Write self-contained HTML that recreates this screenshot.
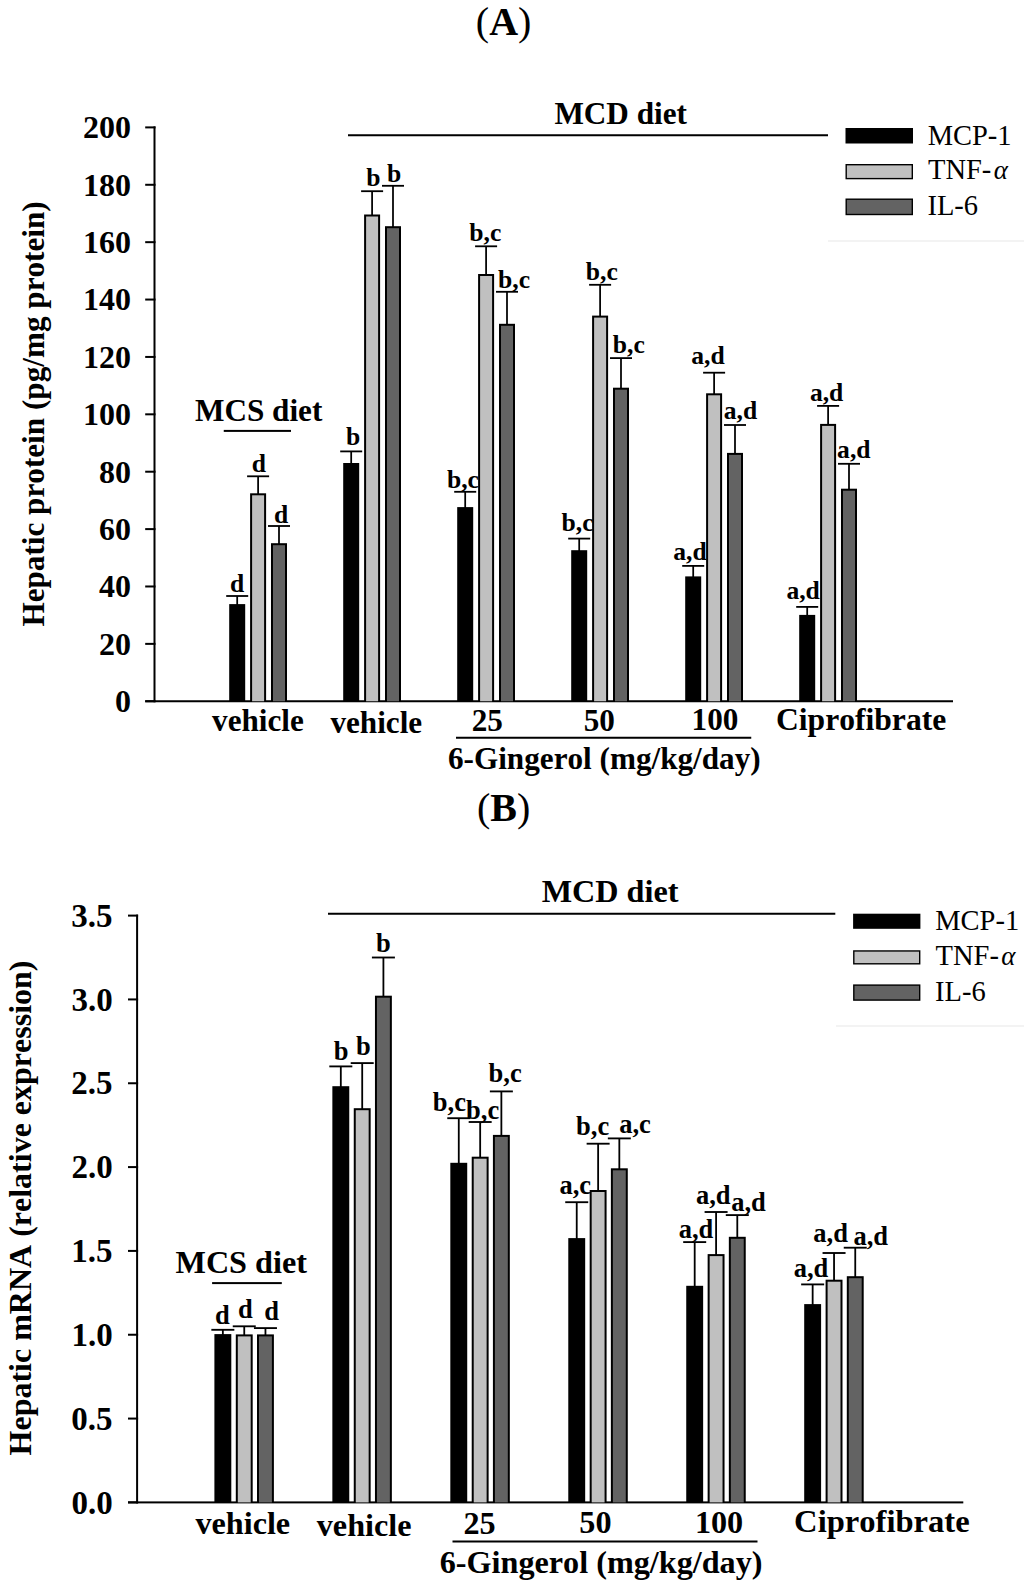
<!DOCTYPE html>
<html><head><meta charset="utf-8"><title>Figure</title>
<style>
html,body{margin:0;padding:0;background:#fff;}
body{width:1024px;height:1591px;overflow:hidden;}
svg{display:block;}
text{font-family:"Liberation Serif",serif;fill:#000;font-kerning:none;}
</style></head><body>
<svg width="1024" height="1591" viewBox="0 0 1024 1591">
<rect x="0" y="0" width="1024" height="1591" fill="#fff"/>
<text x="475.84" y="34.7" font-size="40"><tspan>(</tspan><tspan font-weight="bold">A</tspan><tspan>)</tspan></text>
<rect x="153.5" y="126.4" width="2" height="575.85" fill="#000"/>
<rect x="145.2" y="700.25" width="10.3" height="2" fill="#000"/>
<text x="115.02" y="712.07" font-size="32" font-weight="bold">0</text>
<rect x="145.2" y="642.87" width="10.3" height="2" fill="#000"/>
<text x="99.02" y="654.68" font-size="32" font-weight="bold">20</text>
<rect x="145.2" y="585.48" width="10.3" height="2" fill="#000"/>
<text x="99.02" y="597.3" font-size="32" font-weight="bold">40</text>
<rect x="145.2" y="528.1" width="10.3" height="2" fill="#000"/>
<text x="99.02" y="539.91" font-size="32" font-weight="bold">60</text>
<rect x="145.2" y="470.71" width="10.3" height="2" fill="#000"/>
<text x="99.02" y="482.53" font-size="32" font-weight="bold">80</text>
<rect x="145.2" y="413.32" width="10.3" height="2" fill="#000"/>
<text x="83.02" y="425.14" font-size="32" font-weight="bold">100</text>
<rect x="145.2" y="355.94" width="10.3" height="2" fill="#000"/>
<text x="83.02" y="367.76" font-size="32" font-weight="bold">120</text>
<rect x="145.2" y="298.55" width="10.3" height="2" fill="#000"/>
<text x="83.02" y="310.37" font-size="32" font-weight="bold">140</text>
<rect x="145.2" y="241.17" width="10.3" height="2" fill="#000"/>
<text x="83.02" y="252.99" font-size="32" font-weight="bold">160</text>
<rect x="145.2" y="183.78" width="10.3" height="2" fill="#000"/>
<text x="83.02" y="195.6" font-size="32" font-weight="bold">180</text>
<rect x="145.2" y="126.4" width="10.3" height="2" fill="#000"/>
<text x="83.02" y="138.22" font-size="32" font-weight="bold">200</text>
<rect x="145.2" y="700.25" width="807.8" height="2" fill="#000"/>
<text transform="translate(43.5 626.62) rotate(-90)" x="0" y="0" font-size="31.2" font-weight="bold">Hepatic protein (pg/mg protein)</text>
<rect x="348" y="134.25" width="480" height="2" fill="#000"/>
<text x="554.42" y="123.6" font-size="31.2" font-weight="bold">MCD diet</text>
<text x="195.01" y="420.5" font-size="31.2" font-weight="bold">MCS diet</text>
<rect x="223.75" y="429.9" width="67.25" height="2" fill="#000"/>
<text x="212.09" y="731" font-size="31.2" font-weight="bold">vehicle</text>
<text x="330.39" y="732.75" font-size="31.2" font-weight="bold">vehicle</text>
<text x="471.72" y="731" font-size="31.2" font-weight="bold">25</text>
<text x="583.77" y="730.5" font-size="31.2" font-weight="bold">50</text>
<text x="691.54" y="729.6" font-size="31.2" font-weight="bold">100</text>
<text x="776.01" y="729.6" font-size="31.6" font-weight="bold">Ciprofibrate</text>
<rect x="456" y="736.75" width="295.25" height="2" fill="#000"/>
<text x="447.98" y="769.1" font-size="31.2" font-weight="bold">6-Gingerol (mg/kg/day)</text>
<rect x="845.5" y="128" width="67.5" height="15.5" fill="#000"/>
<text x="927.68" y="145" font-size="28.5">MCP-1</text>
<rect x="845.5" y="164" width="67.5" height="15.3" fill="#000"/>
<rect x="846.9" y="165.4" width="64.7" height="12.5" fill="#c0c0c0"/>
<text x="927.99" y="179.3" font-size="28.5">TNF-</text>
<text x="993.7" y="179.3" font-size="27" font-style="italic">&#945;</text>
<rect x="845.5" y="198.5" width="67.5" height="16.7" fill="#000"/>
<rect x="846.9" y="199.9" width="64.7" height="13.9" fill="#636363"/>
<text x="927.47" y="214.8" font-size="28.5">IL-6</text>
<rect x="828" y="240.4" width="196" height="1.2" fill="#ececec"/>
<text x="229.91" y="591.5" font-size="25.6" font-weight="bold">d</text>
<text x="251.81" y="471.9" font-size="25.6" font-weight="bold">d</text>
<text x="273.91" y="522.6" font-size="25.6" font-weight="bold">d</text>
<text x="346.04" y="445.3" font-size="25.6" font-weight="bold">b</text>
<text x="366.24" y="185.6" font-size="25.6" font-weight="bold">b</text>
<text x="386.94" y="181.7" font-size="25.6" font-weight="bold">b</text>
<text x="446.96" y="487.5" font-size="25.6" font-weight="bold">b,c</text>
<text x="469.36" y="240.8" font-size="25.6" font-weight="bold">b,c</text>
<text x="498.06" y="288.1" font-size="25.6" font-weight="bold">b,c</text>
<text x="561.56" y="531" font-size="25.6" font-weight="bold">b,c</text>
<text x="585.86" y="279.5" font-size="25.6" font-weight="bold">b,c</text>
<text x="612.76" y="353.4" font-size="25.6" font-weight="bold">b,c</text>
<text x="673.31" y="560.1" font-size="25.6" font-weight="bold">a,d</text>
<text x="691.31" y="364.2" font-size="25.6" font-weight="bold">a,d</text>
<text x="723.71" y="419.4" font-size="25.6" font-weight="bold">a,d</text>
<text x="786.41" y="598.7" font-size="25.6" font-weight="bold">a,d</text>
<text x="809.91" y="400.5" font-size="25.6" font-weight="bold">a,d</text>
<text x="837.11" y="458.1" font-size="25.6" font-weight="bold">a,d</text>
<rect x="236.32" y="596" width="1.75" height="9.1" fill="#000"/>
<rect x="226.2" y="595.1" width="22" height="1.8" fill="#000"/>
<rect x="229.2" y="604.1" width="16" height="97.15" fill="#000"/>
<rect x="257.23" y="476.3" width="1.75" height="18" fill="#000"/>
<rect x="247.1" y="475.4" width="22" height="1.8" fill="#000"/>
<rect x="250.1" y="493.3" width="16" height="207.95" fill="#000"/>
<rect x="252.1" y="495.3" width="12" height="205.95" fill="#c0c0c0"/>
<rect x="278.12" y="526" width="1.75" height="18.2" fill="#000"/>
<rect x="268" y="525.1" width="22" height="1.8" fill="#000"/>
<rect x="271" y="543.2" width="16" height="158.05" fill="#000"/>
<rect x="273" y="545.2" width="12" height="156.05" fill="#636363"/>
<rect x="350.32" y="451.4" width="1.75" height="12.6" fill="#000"/>
<rect x="340.2" y="450.5" width="22" height="1.8" fill="#000"/>
<rect x="343.2" y="463" width="16" height="238.25" fill="#000"/>
<rect x="371.22" y="191.2" width="1.75" height="24.3" fill="#000"/>
<rect x="361.1" y="190.3" width="22" height="1.8" fill="#000"/>
<rect x="364.1" y="214.5" width="16" height="486.75" fill="#000"/>
<rect x="366.1" y="216.5" width="12" height="484.75" fill="#c0c0c0"/>
<rect x="392.12" y="185.8" width="1.75" height="41.4" fill="#000"/>
<rect x="382" y="184.9" width="22" height="1.8" fill="#000"/>
<rect x="385" y="226.2" width="16" height="475.05" fill="#000"/>
<rect x="387" y="228.2" width="12" height="473.05" fill="#636363"/>
<rect x="464.32" y="491.8" width="1.75" height="16.3" fill="#000"/>
<rect x="454.2" y="490.9" width="22" height="1.8" fill="#000"/>
<rect x="457.2" y="507.1" width="16" height="194.15" fill="#000"/>
<rect x="485.22" y="246.3" width="1.75" height="28.7" fill="#000"/>
<rect x="475.1" y="245.4" width="22" height="1.8" fill="#000"/>
<rect x="478.1" y="274" width="16" height="427.25" fill="#000"/>
<rect x="480.1" y="276" width="12" height="425.25" fill="#c0c0c0"/>
<rect x="506.12" y="291.8" width="1.75" height="33" fill="#000"/>
<rect x="496" y="290.9" width="22" height="1.8" fill="#000"/>
<rect x="499" y="323.8" width="16" height="377.45" fill="#000"/>
<rect x="501" y="325.8" width="12" height="375.45" fill="#636363"/>
<rect x="578.33" y="538.6" width="1.75" height="12.6" fill="#000"/>
<rect x="568.2" y="537.7" width="22" height="1.8" fill="#000"/>
<rect x="571.2" y="550.2" width="16" height="151.05" fill="#000"/>
<rect x="599.23" y="284.8" width="1.75" height="31.8" fill="#000"/>
<rect x="589.1" y="283.9" width="22" height="1.8" fill="#000"/>
<rect x="592.1" y="315.6" width="16" height="385.65" fill="#000"/>
<rect x="594.1" y="317.6" width="12" height="383.65" fill="#c0c0c0"/>
<rect x="620.12" y="358.1" width="1.75" height="30.6" fill="#000"/>
<rect x="610" y="357.2" width="22" height="1.8" fill="#000"/>
<rect x="613" y="387.7" width="16" height="313.55" fill="#000"/>
<rect x="615" y="389.7" width="12" height="311.55" fill="#636363"/>
<rect x="692.33" y="565.9" width="1.75" height="11.5" fill="#000"/>
<rect x="682.2" y="565" width="22" height="1.8" fill="#000"/>
<rect x="685.2" y="576.4" width="16" height="124.85" fill="#000"/>
<rect x="713.23" y="372.7" width="1.75" height="21.6" fill="#000"/>
<rect x="703.1" y="371.8" width="22" height="1.8" fill="#000"/>
<rect x="706.1" y="393.3" width="16" height="307.95" fill="#000"/>
<rect x="708.1" y="395.3" width="12" height="305.95" fill="#c0c0c0"/>
<rect x="734.12" y="425" width="1.75" height="28.9" fill="#000"/>
<rect x="724" y="424.1" width="22" height="1.8" fill="#000"/>
<rect x="727" y="452.9" width="16" height="248.35" fill="#000"/>
<rect x="729" y="454.9" width="12" height="246.35" fill="#636363"/>
<rect x="806.33" y="606.9" width="1.75" height="9" fill="#000"/>
<rect x="796.2" y="606" width="22" height="1.8" fill="#000"/>
<rect x="799.2" y="614.9" width="16" height="86.35" fill="#000"/>
<rect x="827.23" y="405.9" width="1.75" height="19" fill="#000"/>
<rect x="817.1" y="405" width="22" height="1.8" fill="#000"/>
<rect x="820.1" y="423.9" width="16" height="277.35" fill="#000"/>
<rect x="822.1" y="425.9" width="12" height="275.35" fill="#c0c0c0"/>
<rect x="848.12" y="463.8" width="1.75" height="25.9" fill="#000"/>
<rect x="838" y="462.9" width="22" height="1.8" fill="#000"/>
<rect x="841" y="488.7" width="16" height="212.55" fill="#000"/>
<rect x="843" y="490.7" width="12" height="210.55" fill="#636363"/>
<text x="476.99" y="821.1" font-size="40"><tspan>(</tspan><tspan font-weight="bold">B</tspan><tspan>)</tspan></text>
<rect x="136.1" y="914.6" width="2" height="588.8" fill="#000"/>
<rect x="128" y="1501.4" width="10.1" height="2" fill="#000"/>
<text x="71.41" y="1513.55" font-size="33" font-weight="bold">0.0</text>
<rect x="128" y="1417.57" width="10.1" height="2" fill="#000"/>
<text x="71.36" y="1429.73" font-size="33" font-weight="bold">0.5</text>
<rect x="128" y="1333.74" width="10.1" height="2" fill="#000"/>
<text x="71.41" y="1345.9" font-size="33" font-weight="bold">1.0</text>
<rect x="128" y="1249.91" width="10.1" height="2" fill="#000"/>
<text x="71.36" y="1262.07" font-size="33" font-weight="bold">1.5</text>
<rect x="128" y="1166.09" width="10.1" height="2" fill="#000"/>
<text x="71.41" y="1178.24" font-size="33" font-weight="bold">2.0</text>
<rect x="128" y="1082.26" width="10.1" height="2" fill="#000"/>
<text x="71.36" y="1094.41" font-size="33" font-weight="bold">2.5</text>
<rect x="128" y="998.43" width="10.1" height="2" fill="#000"/>
<text x="71.41" y="1010.58" font-size="33" font-weight="bold">3.0</text>
<rect x="128" y="914.6" width="10.1" height="2" fill="#000"/>
<text x="71.36" y="926.75" font-size="33" font-weight="bold">3.5</text>
<rect x="128" y="1501.4" width="835.3" height="2" fill="#000"/>
<text transform="translate(31.4 1455.46) rotate(-90)" x="0" y="0" font-size="32" font-weight="bold">Hepatic mRNA (relative expression)</text>
<rect x="328" y="912.75" width="507.3" height="2" fill="#000"/>
<text x="541.69" y="902" font-size="32.2" font-weight="bold">MCD diet</text>
<text x="175.51" y="1272.8" font-size="32.2" font-weight="bold">MCS diet</text>
<rect x="212.1" y="1282.1" width="69.7" height="2" fill="#000"/>
<text x="195.43" y="1533.75" font-size="32.2" font-weight="bold">vehicle</text>
<text x="316.78" y="1535.75" font-size="32.2" font-weight="bold">vehicle</text>
<text x="463.41" y="1534.25" font-size="32.2" font-weight="bold">25</text>
<text x="579.37" y="1532.5" font-size="32.2" font-weight="bold">50</text>
<text x="694.92" y="1532.5" font-size="32.2" font-weight="bold">100</text>
<text x="794.11" y="1531.75" font-size="32.6" font-weight="bold">Ciprofibrate</text>
<rect x="452.5" y="1540.5" width="305" height="2" fill="#000"/>
<text x="439.72" y="1572.5" font-size="32.2" font-weight="bold">6-Gingerol (mg/kg/day)</text>
<rect x="853.1" y="913.7" width="67.3" height="15.1" fill="#000"/>
<text x="935.28" y="930.4" font-size="28.5">MCP-1</text>
<rect x="853.1" y="950.25" width="67.3" height="14.25" fill="#000"/>
<rect x="854.5" y="951.65" width="64.5" height="11.45" fill="#c0c0c0"/>
<text x="935.59" y="964.8" font-size="28.5">TNF-</text>
<text x="1001.3" y="964.8" font-size="27" font-style="italic">&#945;</text>
<rect x="853.1" y="984.4" width="67.3" height="16.4" fill="#000"/>
<rect x="854.5" y="985.8" width="64.5" height="13.6" fill="#636363"/>
<text x="935.07" y="1000.5" font-size="28.5">IL-6</text>
<rect x="836" y="1025.4" width="188" height="1.2" fill="#ececec"/>
<text x="215.04" y="1323.6" font-size="26.5" font-weight="bold">d</text>
<text x="238.04" y="1318.1" font-size="26.5" font-weight="bold">d</text>
<text x="264.34" y="1320.1" font-size="26.5" font-weight="bold">d</text>
<text x="333.7" y="1059.5" font-size="26.5" font-weight="bold">b</text>
<text x="356" y="1054.5" font-size="26.5" font-weight="bold">b</text>
<text x="375.9" y="952.4" font-size="26.5" font-weight="bold">b</text>
<text x="432.8" y="1111.2" font-size="26.5" font-weight="bold">b,c</text>
<text x="466.1" y="1119.3" font-size="26.5" font-weight="bold">b,c</text>
<text x="488.6" y="1081.7" font-size="26.5" font-weight="bold">b,c</text>
<text x="559.43" y="1193.75" font-size="26.5" font-weight="bold">a,c</text>
<text x="576.1" y="1135.2" font-size="26.5" font-weight="bold">b,c</text>
<text x="619.18" y="1133.4" font-size="26.5" font-weight="bold">a,c</text>
<text x="678.72" y="1238" font-size="26.5" font-weight="bold">a,d</text>
<text x="695.92" y="1204.2" font-size="26.5" font-weight="bold">a,d</text>
<text x="731.22" y="1211.3" font-size="26.5" font-weight="bold">a,d</text>
<text x="793.72" y="1276.8" font-size="26.5" font-weight="bold">a,d</text>
<text x="813.32" y="1241.6" font-size="26.5" font-weight="bold">a,d</text>
<text x="853.42" y="1245.1" font-size="26.5" font-weight="bold">a,d</text>
<rect x="221.95" y="1329.8" width="1.8" height="5.3" fill="#000"/>
<rect x="211.35" y="1328.88" width="23" height="1.85" fill="#000"/>
<rect x="214.4" y="1334.1" width="16.9" height="168.3" fill="#000"/>
<rect x="243.35" y="1326.3" width="1.8" height="9.1" fill="#000"/>
<rect x="232.75" y="1325.38" width="23" height="1.85" fill="#000"/>
<rect x="235.8" y="1334.4" width="16.9" height="168" fill="#000"/>
<rect x="237.8" y="1336.4" width="12.9" height="166" fill="#c0c0c0"/>
<rect x="264.55" y="1328.1" width="1.8" height="7.3" fill="#000"/>
<rect x="253.95" y="1327.17" width="23" height="1.85" fill="#000"/>
<rect x="257" y="1334.4" width="16.9" height="168" fill="#000"/>
<rect x="259" y="1336.4" width="12.9" height="166" fill="#636363"/>
<rect x="339.91" y="1066.4" width="1.8" height="20.8" fill="#000"/>
<rect x="329.31" y="1065.48" width="23" height="1.85" fill="#000"/>
<rect x="332.36" y="1086.2" width="16.9" height="416.2" fill="#000"/>
<rect x="361.31" y="1063.1" width="1.8" height="46.1" fill="#000"/>
<rect x="350.71" y="1062.17" width="23" height="1.85" fill="#000"/>
<rect x="353.76" y="1108.2" width="16.9" height="394.2" fill="#000"/>
<rect x="355.76" y="1110.2" width="12.9" height="392.2" fill="#c0c0c0"/>
<rect x="382.51" y="957.5" width="1.8" height="39.2" fill="#000"/>
<rect x="371.91" y="956.58" width="23" height="1.85" fill="#000"/>
<rect x="374.96" y="995.7" width="16.9" height="506.7" fill="#000"/>
<rect x="376.96" y="997.7" width="12.9" height="504.7" fill="#636363"/>
<rect x="457.87" y="1118.2" width="1.8" height="45.6" fill="#000"/>
<rect x="447.27" y="1117.28" width="23" height="1.85" fill="#000"/>
<rect x="450.32" y="1162.8" width="16.9" height="339.6" fill="#000"/>
<rect x="479.27" y="1122" width="1.8" height="35.7" fill="#000"/>
<rect x="468.67" y="1121.08" width="23" height="1.85" fill="#000"/>
<rect x="471.72" y="1156.7" width="16.9" height="345.7" fill="#000"/>
<rect x="473.72" y="1158.7" width="12.9" height="343.7" fill="#c0c0c0"/>
<rect x="500.47" y="1091.4" width="1.8" height="44.5" fill="#000"/>
<rect x="489.87" y="1090.48" width="23" height="1.85" fill="#000"/>
<rect x="492.92" y="1134.9" width="16.9" height="367.5" fill="#000"/>
<rect x="494.92" y="1136.9" width="12.9" height="365.5" fill="#636363"/>
<rect x="575.83" y="1202.2" width="1.8" height="36.9" fill="#000"/>
<rect x="565.23" y="1201.28" width="23" height="1.85" fill="#000"/>
<rect x="568.28" y="1238.1" width="16.9" height="264.3" fill="#000"/>
<rect x="597.23" y="1143.7" width="1.8" height="47.3" fill="#000"/>
<rect x="586.63" y="1142.78" width="23" height="1.85" fill="#000"/>
<rect x="589.68" y="1190" width="16.9" height="312.4" fill="#000"/>
<rect x="591.68" y="1192" width="12.9" height="310.4" fill="#c0c0c0"/>
<rect x="618.43" y="1138.4" width="1.8" height="30.9" fill="#000"/>
<rect x="607.83" y="1137.48" width="23" height="1.85" fill="#000"/>
<rect x="610.88" y="1168.3" width="16.9" height="334.1" fill="#000"/>
<rect x="612.88" y="1170.3" width="12.9" height="332.1" fill="#636363"/>
<rect x="693.79" y="1242.1" width="1.8" height="44.7" fill="#000"/>
<rect x="683.19" y="1241.17" width="23" height="1.85" fill="#000"/>
<rect x="686.24" y="1285.8" width="16.9" height="216.6" fill="#000"/>
<rect x="715.19" y="1212" width="1.8" height="43.1" fill="#000"/>
<rect x="704.59" y="1211.08" width="23" height="1.85" fill="#000"/>
<rect x="707.64" y="1254.1" width="16.9" height="248.3" fill="#000"/>
<rect x="709.64" y="1256.1" width="12.9" height="246.3" fill="#c0c0c0"/>
<rect x="736.39" y="1215.1" width="1.8" height="22.7" fill="#000"/>
<rect x="725.79" y="1214.17" width="23" height="1.85" fill="#000"/>
<rect x="728.84" y="1236.8" width="16.9" height="265.6" fill="#000"/>
<rect x="730.84" y="1238.8" width="12.9" height="263.6" fill="#636363"/>
<rect x="811.75" y="1284.4" width="1.8" height="20.7" fill="#000"/>
<rect x="801.15" y="1283.48" width="23" height="1.85" fill="#000"/>
<rect x="804.2" y="1304.1" width="16.9" height="198.3" fill="#000"/>
<rect x="833.15" y="1253" width="1.8" height="27.7" fill="#000"/>
<rect x="822.55" y="1252.08" width="23" height="1.85" fill="#000"/>
<rect x="825.6" y="1279.7" width="16.9" height="222.7" fill="#000"/>
<rect x="827.6" y="1281.7" width="12.9" height="220.7" fill="#c0c0c0"/>
<rect x="854.35" y="1247.7" width="1.8" height="29.5" fill="#000"/>
<rect x="843.75" y="1246.78" width="23" height="1.85" fill="#000"/>
<rect x="846.8" y="1276.2" width="16.9" height="226.2" fill="#000"/>
<rect x="848.8" y="1278.2" width="12.9" height="224.2" fill="#636363"/>
</svg>
</body></html>
